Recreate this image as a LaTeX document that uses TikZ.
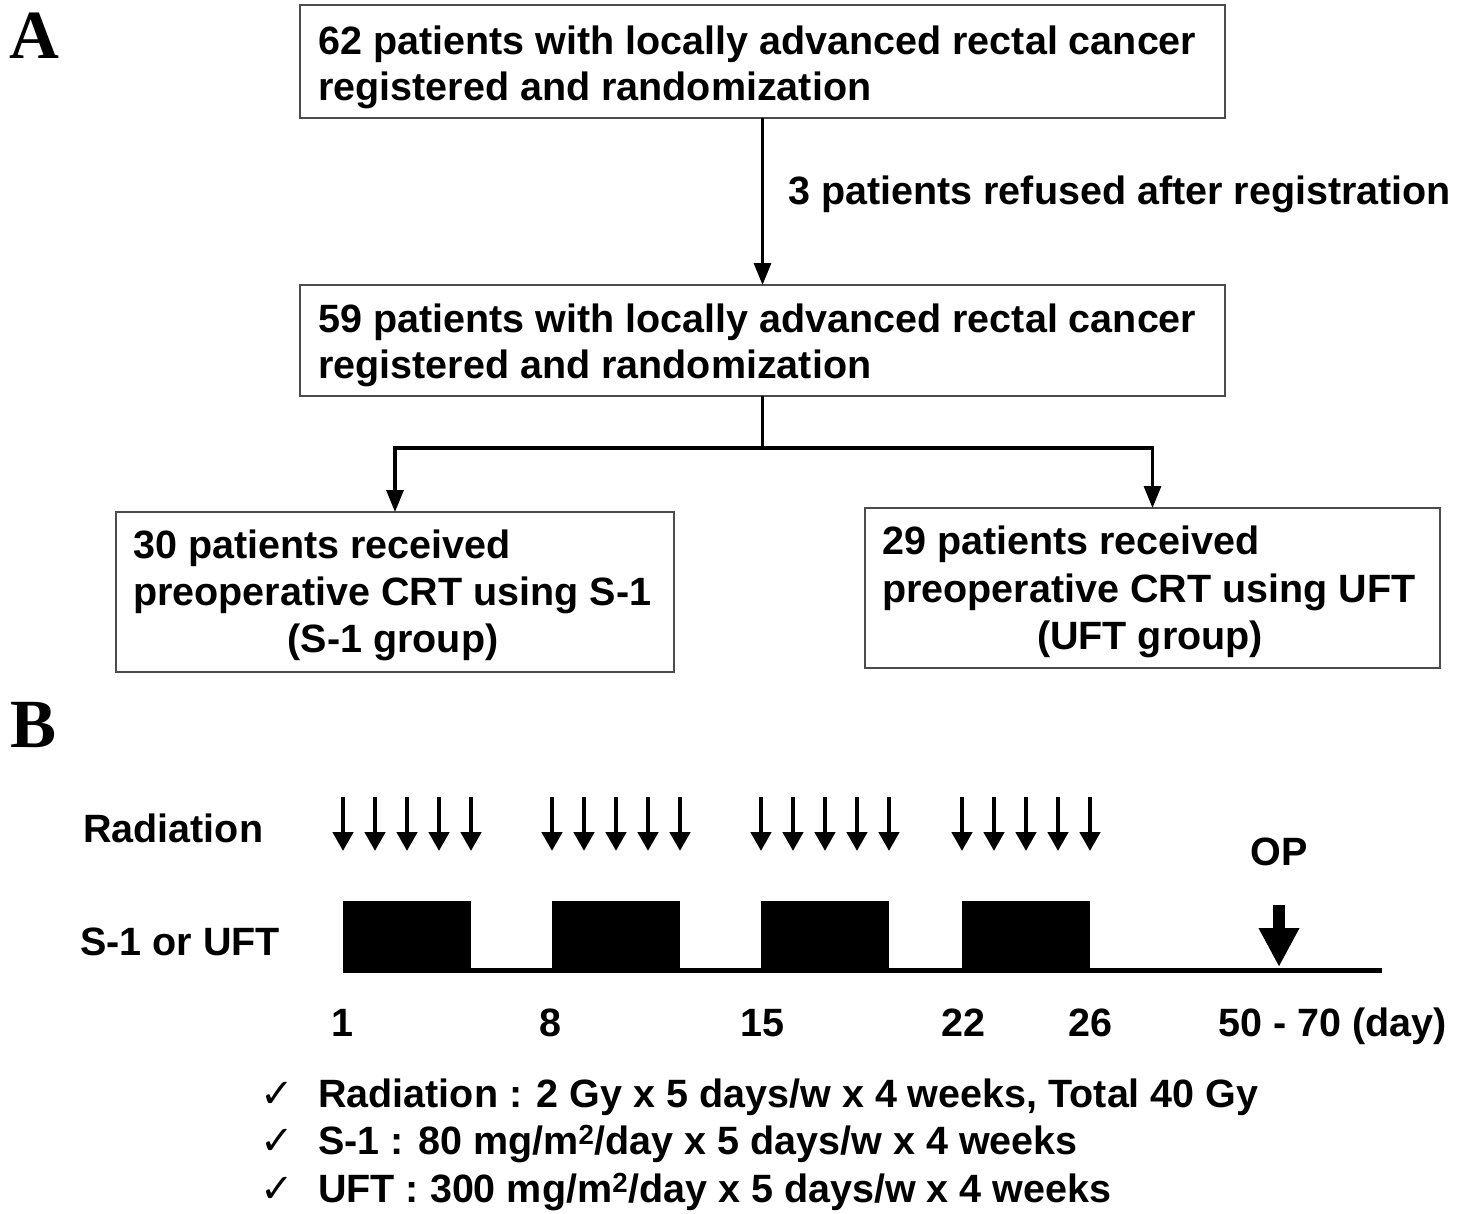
\documentclass[tikz,border=0pt]{standalone}
\usepackage{fontspec}
\setmainfont{Liberation Sans}
\newfontfamily\labelserif{Liberation Serif}
\newfontfamily\symfont{DejaVu Sans}
\usetikzlibrary{arrows.meta}
\definecolor{boxgray}{gray}{0.3}
\begin{document}
\begin{tikzpicture}[x=1pt,y=-1pt,
  txt/.style={font=\fontsize{39.5}{46}\selectfont\bfseries, inner sep=0pt},
  panel/.style={font=\labelserif\fontsize{69}{69}\selectfont\bfseries, inner sep=0pt, anchor=base west},
  flowbox/.style={draw=boxgray, line width=1.6pt, inner sep=0pt, outer sep=0pt},
  flowline/.style={line width=3.2pt, -{Triangle[length=22pt,width=17pt]}},
  plainline/.style={line width=3.2pt},
  radarrow/.style={line width=4.5pt, -{Triangle[length=19pt,width=20pt]}},
  oparrow/.style={line width=12pt, -{Triangle[length=39pt,width=38pt]}},
  checkmk/.style={font=\symfont\fontsize{40}{40}\selectfont, inner sep=0pt, anchor=base west}
]
\useasboundingbox (0,0) rectangle (1461,1213);

% ---------- Panel A ----------
\node[panel] (pA) at (9,58) {A};

\node[flowbox, minimum width=925pt, minimum height=113pt] (b1) at (762.5,61.5) {};
\node[txt, anchor=base west] (b1l1) at (318,54) {62 patients with locally advanced rectal cancer};
\node[txt, anchor=base west] (b1l2) at (318,100) {registered and randomization};

\node[flowbox, minimum width=925pt, minimum height=111pt] (b2) at (762.5,340.5) {};
\node[txt, anchor=base west] (b2l1) at (318,332) {59 patients with locally advanced rectal cancer};
\node[txt, anchor=base west] (b2l2) at (318,378) {registered and randomization};

\node[txt, anchor=base west] (refused) at (788,204) {3 patients refused after registration};

\node[flowbox, minimum width=558pt, minimum height=160pt] (b3) at (395,592) {};
\node[txt, anchor=base west] (b3l1) at (133,558) {30 patients received};
\node[txt, anchor=base west] (b3l2) at (133,605) {preoperative CRT using S-1};
\node[txt, anchor=base] (b3l3) at (393,652) {(S-1 group)};

\node[flowbox, minimum width=575pt, minimum height=160pt] (b4) at (1152.5,588) {};
\node[txt, anchor=base west] (b4l1) at (882,554) {29 patients received};
\node[txt, anchor=base west] (b4l2) at (882,602) {preoperative CRT using UFT};
\node[txt, anchor=base] (b4l3) at (1150,649) {(UFT group)};

\draw[flowline] (b1.south) -- (b2.north);
\coordinate (split) at (762.5,448);
\draw[plainline] (b2.south) -- (split);
\draw[flowline] (split) -| (b3.north);
\draw[flowline] (split) -| (b4.north);

% ---------- Panel B ----------
\node[panel] (pB) at (10,747) {B};

\node[txt, anchor=base west] (radlbl) at (83,842) {Radiation};
\node[txt, anchor=base west] (druglbl) at (80,955) {S-1 or UFT};

\foreach \gx in {343,552,761,962}{
  \foreach \i in {0,...,4}{
    \draw[radarrow] ({\gx+32*\i},797) -- ({\gx+32*\i},851);
  }
  \fill ({\gx},901) rectangle ({\gx+128},970);
}
\draw[line width=5pt] (343,970) -- (1382,970);

\node[txt, anchor=base] (oplbl) at (1279,865) {OP};
\draw[oparrow] (1279,905) -- (1279,967);

\node[txt, anchor=base] (d1) at (342,1036) {1};
\node[txt, anchor=base] (d8) at (550,1036) {8};
\node[txt, anchor=base] (d15) at (762,1036) {15};
\node[txt, anchor=base] (d22) at (963,1036) {22};
\node[txt, anchor=base] (d26) at (1090,1036) {26};
\node[txt, anchor=base west] (dop) at (1218,1036) {50 - 70 (day)};

\node[checkmk] (c1) at (260,1107) {✓};
\node[checkmk] (c2) at (260,1154) {✓};
\node[checkmk] (c3) at (260,1202) {✓};
\node[txt, anchor=base west] (n1) at (318,1107) {Radiation : 2 Gy x 5 days/w x 4 weeks, Total 40 Gy};
\node[txt, anchor=base west] (n2) at (318,1154) {S-1 : 80 mg/m\textsuperscript{2}/day x 5 days/w x 4 weeks};
\node[txt, anchor=base west] (n3) at (318,1202) {UFT : 300 mg/m\textsuperscript{2}/day x 5 days/w x 4 weeks};
\end{tikzpicture}
\end{document}
